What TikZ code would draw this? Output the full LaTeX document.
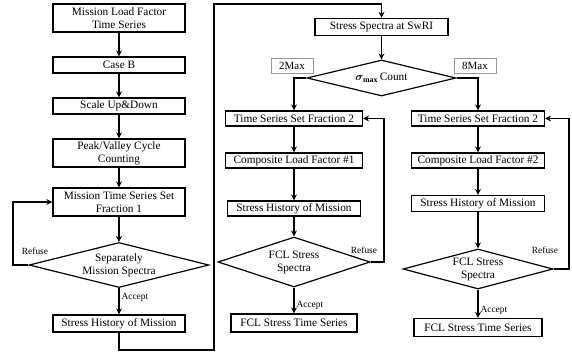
\documentclass[tikz,border=0pt]{standalone}
\usepackage{fontspec}
\setmainfont{Liberation Serif}
\usepackage{bm}
\usetikzlibrary{arrows.meta, positioning, shapes.geometric}

\begin{document}
\begin{tikzpicture}[x=1pt, y=-1pt,
  box/.style={draw, line width=1.2pt, inner sep=1pt, align=center,
    font=\fontsize{11.3}{13}\selectfont},
  decision/.style={draw, diamond, line width=1.2pt, inner sep=0pt,
    align=center, font=\fontsize{11.3}{13}\selectfont},
  tag/.style={draw=gray!80, line width=0.7pt, inner sep=1pt,
    minimum width=42pt, minimum height=15pt,
    font=\fontsize{11}{12}\selectfont},
  note/.style={font=\fontsize{9.4}{10}\selectfont, inner sep=2pt},
  flow/.style={-{Stealth[length=6pt, width=6pt]}, line width=1.2pt}]
  \useasboundingbox (0,0) rectangle (572,353);
  % Mission column
  \node[box, minimum width=132pt, minimum height=28pt] (mlf) at (119,18)
        {Mission Load Factor\\Time Series};
  \node[box, minimum width=132pt, minimum height=16pt] (caseb) at (119,65)
        {Case B};
  \node[box, minimum width=132pt, minimum height=16pt] (scale) at (119,106)
        {Scale Up\&Down};
  \node[box, minimum width=132pt, minimum height=28pt] (peak) at (119,153)
        {Peak/Valley Cycle\\Counting};
  \node[box, minimum width=132pt, minimum height=28pt] (mtss) at (119,202)
        {Mission Time Series Set\\Fraction 1};
  \node[decision, aspect=4, minimum width=180pt, minimum height=45pt] (sep)
        at (119,265) {Separately\\Mission Spectra};
  \node[box, minimum width=132pt, minimum height=17pt] (shm) at (119,323.5)
        {Stress History of Mission};
  % Spectra and count
  \node[box, minimum width=133pt, minimum height=17pt] (ssw) at (381.5,27)
        {Stress Spectra at SwRI};
  \node[decision, aspect=4.1, minimum width=149pt, minimum height=36pt] (sig)
        at (381.5,78) {$\bm{\sigma}_{\mathbf{max}}$\,Count};
  \node[tag] (twomax) at (292,65.5) {2Max};
  \node[tag] (eightmax) at (475,65.5) {8Max};
  % 2Max column
  \node[box, minimum width=137pt, minimum height=15pt] (tsfa) at (294,118.5)
        {Time Series Set Fraction 2};
  \node[box, minimum width=137pt, minimum height=15pt] (cla) at (294,160.5)
        {Composite Load Factor \#1};
  \node[box, minimum width=133pt, minimum height=15pt] (shma) at (294,208.5)
        {Stress History of Mission};
  \node[decision, aspect=3.04, minimum width=152pt, minimum height=50pt] (fcla)
        at (294,262) {FCL Stress\\Spectra};
  \node[box, minimum width=126pt, minimum height=18pt] (ftsa) at (294,323)
        {FCL Stress Time Series};
  % 8Max column
  \node[box, minimum width=133pt, minimum height=15pt] (tsfb) at (478,118.5)
        {Time Series Set Fraction 2};
  \node[box, minimum width=133pt, minimum height=15pt] (clb) at (478,160.5)
        {Composite Load Factor \#2};
  \node[box, minimum width=133pt, minimum height=16pt] (shmb) at (478,203.5)
        {Stress History of Mission};
  \node[decision, aspect=3.75, minimum width=150pt, minimum height=40pt] (fclb)
        at (478,269) {FCL Stress\\Spectra};
  \node[box, minimum width=128pt, minimum height=18pt] (ftsb) at (478,327.5)
        {FCL Stress Time Series};
  % Corner points
  \coordinate (rl) at (13,265);
  \coordinate (c1) at (119,350);
  \coordinate (c2) at (214,350);
  \coordinate (c3) at (214,4);
  \coordinate (ra) at (384,262);
  \coordinate (rb) at (569,269);
  % Arrows
  \draw[flow] (mlf) -- (caseb);
  \draw[flow] (caseb) -- (scale);
  \draw[flow] (scale) -- (peak);
  \draw[flow] (peak) -- (mtss);
  \draw[flow] (mtss) -- (sep);
  \draw[flow] (sep) -- node[note, right, pos=0.35] {Accept} (shm);
  \draw[flow] (sep.west) -- (rl) |- (mtss.west);
  \node[note] (refl) at (35,251) {Refuse};
  \draw[flow] (shm.south) -- (c1) -- (c2) -- (c3) -| (ssw.north);
  \draw[flow] (ssw) -- (sig);
  \draw[flow] (sig.west) -| (tsfa.north);
  \draw[flow] (sig.east) -| (tsfb.north);
  \draw[flow] (tsfa) -- (cla);
  \draw[flow] (cla) -- (shma);
  \draw[flow] (shma) -- (fcla);
  \draw[flow] (fcla) -- node[note, right, pos=0.7] {Accept} (ftsa);
  \draw[flow] (fcla.east) -- (ra) |- (tsfa.east);
  \node[note] (refa) at (364,250) {Refuse};
  \draw[flow] (tsfb) -- (clb);
  \draw[flow] (clb) -- (shmb);
  \draw[flow] (shmb) -- (fclb);
  \draw[flow] (fclb) -- node[note, right, pos=0.72] {Accept} (ftsb);
  \draw[flow] (fclb.east) -- (rb) |- (tsfb.east);
  \node[note] (refb) at (545,250) {Refuse};
\end{tikzpicture}
\end{document}
